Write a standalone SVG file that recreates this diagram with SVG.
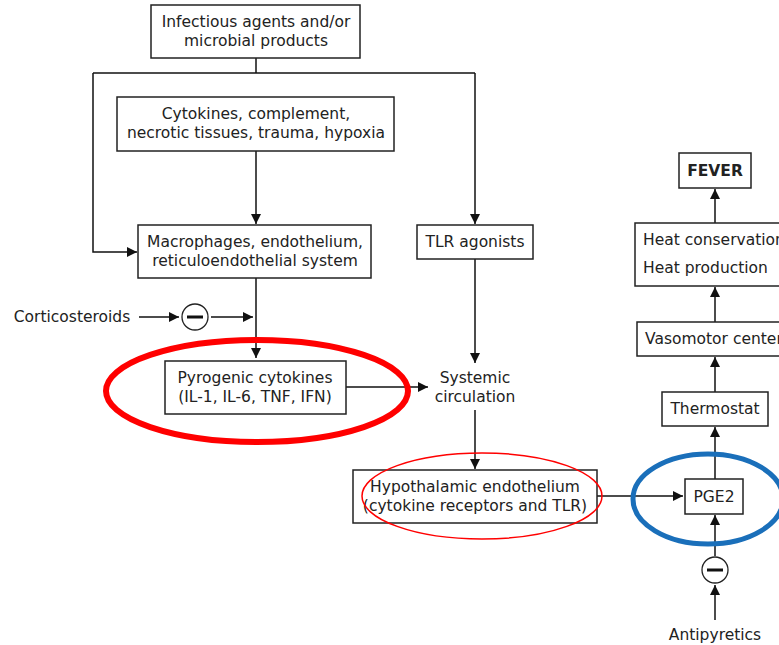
<svg xmlns="http://www.w3.org/2000/svg" width="779" height="645" viewBox="0 0 779 645">
<defs>
<style>
.box{fill:#fff;stroke:#222;stroke-width:1.5}
.t{font-family:"DejaVu Sans",Verdana,sans-serif;font-size:15.5px;fill:#222;text-anchor:middle}
.l{text-anchor:start}
.b{font-weight:bold}
.c{fill:none;stroke:#111;stroke-width:1.5}
.inh{fill:#fff;stroke:#222;stroke-width:1.3}
</style>
<marker id="ah" viewBox="0 0 10 10" refX="10" refY="5" markerWidth="10" markerHeight="10" markerUnits="userSpaceOnUse" orient="auto">
<path d="M0,0 L10,5 L0,10 z" fill="#111"/>
</marker>
</defs>
<rect width="779" height="645" fill="#fff"/>
<g id="connectors">
<path class="c" d="M256,58 V73"/>
<path class="c" d="M93,73 H475"/>
<path class="c" d="M93,73 V252 H137" marker-end="url(#ah)"/>
<path class="c" d="M475,73 V224" marker-end="url(#ah)"/>
<path class="c" d="M256,151 V224" marker-end="url(#ah)"/>
<path class="c" d="M256,278 V358" marker-end="url(#ah)"/>
<path class="c" d="M139,317 H179" marker-end="url(#ah)"/>
<path class="c" d="M211,317 H253" marker-end="url(#ah)"/>
<path class="c" d="M346,387 H428" marker-end="url(#ah)"/>
<path class="c" d="M475,259 V363" marker-end="url(#ah)"/>
<path class="c" d="M475,410 V469" marker-end="url(#ah)"/>
<path class="c" d="M597,496 H683" marker-end="url(#ah)"/>
<path class="c" d="M715,479 V427" marker-end="url(#ah)"/>
<path class="c" d="M715,392 V357" marker-end="url(#ah)"/>
<path class="c" d="M715,322 V287" marker-end="url(#ah)"/>
<path class="c" d="M715,223 V189" marker-end="url(#ah)"/>
<path class="c" d="M715,556 V515" marker-end="url(#ah)"/>
<path class="c" d="M715,620 V585" marker-end="url(#ah)"/>
</g>
<g id="n-infectious"><rect class="box" x="151" y="5" width="209" height="53"/><text class="t" x="256" y="27">Infectious agents and/or</text><text class="t" x="256" y="46">microbial products</text></g>
<g id="n-cytokines"><rect class="box" x="117" y="97" width="277" height="54"/><text class="t" x="256" y="119">Cytokines, complement,</text><text class="t" x="256" y="138">necrotic tissues, trauma, hypoxia</text></g>
<g id="n-macrophages"><rect class="box" x="138" y="225" width="233" height="53"/><text class="t" x="255" y="247">Macrophages, endothelium,</text><text class="t" x="255" y="266">reticuloendothelial system</text></g>
<g id="n-tlr"><rect class="box" x="417" y="225" width="116" height="34"/><text class="t" x="475" y="247">TLR agonists</text></g>
<g id="n-corticosteroids"><text class="t" x="72" y="322">Corticosteroids</text></g>
<g id="n-inhib1"><circle class="inh" cx="195" cy="317" r="13"/><rect x="187" y="315.5" width="16" height="3" fill="#111"/></g>
<g id="n-pyrogenic"><rect class="box" x="165" y="361" width="181" height="53"/><text class="t" x="255" y="383">Pyrogenic cytokines</text><text class="t" x="255" y="402">(IL-1, IL-6, TNF, IFN)</text></g>
<g id="n-systemic"><text class="t" x="475" y="383">Systemic</text><text class="t" x="475" y="402">circulation</text></g>
<g id="n-hypothalamic"><rect class="box" x="353" y="470" width="244" height="53"/><text class="t" x="475" y="492">Hypothalamic endothelium</text><text class="t" x="475" y="511">(cytokine receptors and TLR)</text></g>
<g id="n-pge2"><rect class="box" x="685" y="479" width="58" height="35"/><text class="t" x="714" y="502">PGE2</text></g>
<g id="n-thermostat"><rect class="box" x="662" y="392" width="106" height="34"/><text class="t" x="715" y="414">Thermostat</text></g>
<g id="n-vasomotor"><rect class="box" x="637" y="322" width="150" height="34"/><text class="t l" x="645" y="344">Vasomotor center</text></g>
<g id="n-heat"><rect class="box" x="635" y="223" width="152" height="63"/><text class="t l" x="643" y="245">Heat conservation</text><text class="t l" x="643" y="273">Heat production</text></g>
<g id="n-fever"><rect class="box" x="679" y="153" width="72" height="35"/><text class="t b" x="715" y="176">FEVER</text></g>
<g id="n-inhib2"><circle class="inh" cx="715" cy="570" r="13"/><rect x="707" y="568.5" width="16" height="3" fill="#111"/></g>
<g id="n-antipyretics"><text class="t" x="715" y="640">Antipyretics</text></g>
<g id="highlights">
<ellipse cx="257" cy="391" rx="151" ry="51" fill="none" stroke="#f00" stroke-width="6"/>
<ellipse cx="482" cy="496" rx="120" ry="43" fill="none" stroke="#f00" stroke-width="1.5"/>
<ellipse cx="708" cy="499" rx="75" ry="45" fill="none" stroke="#1a6fba" stroke-width="5"/>
</g>
</svg>
